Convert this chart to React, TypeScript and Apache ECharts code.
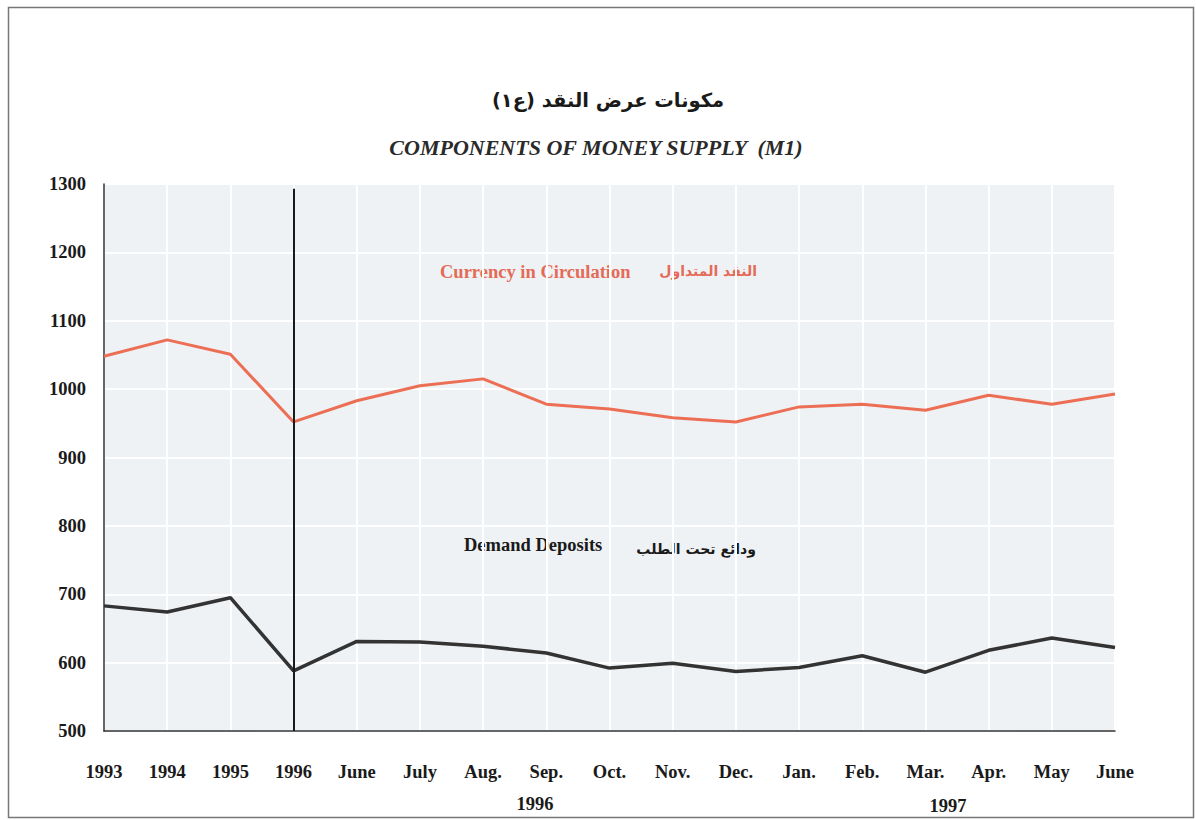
import React, { useEffect, useRef } from "react";
import * as echarts from "echarts";

const categories = ["1993", "1994", "1995", "1996", "June", "July", "Aug.", "Sep.", "Oct.", "Nov.", "Dec.", "Jan.", "Feb.", "Mar.", "Apr.", "May", "June"];
const currency = [1048, 1072, 1051, 952, 983, 1005, 1015, 978, 971, 958, 952, 974, 978, 969, 991, 978, 993];
const demand = [683, 674, 695, 588, 631, 630, 624, 614, 592, 599, 587, 593, 610, 586, 618, 636, 622];
const yTicks = { min: 500, max: 1300, interval: 100 };

const SERIF = "'Liberation Serif', 'Times New Roman', serif";
const ARABIC = "'DejaVu Sans', 'Noto Sans', sans-serif";

export default function App() {
  const ref = useRef<HTMLDivElement>(null);
  useEffect(() => {
    if (!ref.current) return;
    const chart = echarts.init(ref.current, undefined, { renderer: "svg" });
    chart.setOption({
      animation: false,
      backgroundColor: "#ffffff",
      grid: {
        left: 104,
        right: 81,
        top: 184,
        bottom: 89,
        show: true,
        backgroundColor: "#eef2f4",
        borderColor: "#444",
        borderWidth: 1,
      },
      xAxis: {
        type: "category",
        data: categories,
        boundaryGap: false,
        axisLine: { show: true, lineStyle: { color: "#333", width: 1.5 } },
        axisTick: { show: false },
        splitLine: { show: true, lineStyle: { color: "#ffffff", width: 2 } },
        axisLabel: {
          margin: 31,
          color: "#1a1a1a",
          fontFamily: SERIF,
          fontWeight: "bold",
          fontSize: 18.5,
          interval: 0,
        },
      },
      yAxis: {
        type: "value",
        min: yTicks.min,
        max: yTicks.max,
        interval: yTicks.interval,
        axisLine: { show: true, lineStyle: { color: "#333", width: 1.5 } },
        axisTick: { show: false },
        splitLine: { show: true, lineStyle: { color: "#ffffff", width: 2 } },
        axisLabel: {
          margin: 18,
          color: "#1a1a1a",
          fontFamily: SERIF,
          fontWeight: "bold",
          fontSize: 18.5,
          formatter: (v: number) => String(v),
        },
      },
      series: [
        {
          name: "Currency in Circulation",
          type: "line",
          data: currency,
          symbol: "none",
          lineStyle: { color: "#ec6f55", width: 3 },
          z: 3,
        },
        {
          name: "Demand Deposits",
          type: "line",
          data: demand,
          symbol: "none",
          lineStyle: { color: "#333333", width: 3.5 },
          z: 3,
          markLine: {
            silent: true,
            symbol: "none",
            label: { show: false },
            lineStyle: { color: "#1a1a1a", width: 2, type: "solid" },
            data: [[{ coord: ["1996", 1293] }, { coord: ["1996", 500] }]],
          },
        },
      ],
      graphic: [
        {
          type: "rect",
          shape: { x: 8.5, y: 7.5, width: 1185, height: 810 },
          style: { fill: "none", stroke: "#777", lineWidth: 1.5 },
          silent: true,
        },
        {
          type: "text",
          x: 608,
          y: 100,
          style: {
            text: "مكونات عرض النقد (ع١)",
            font: `bold 19.5px ${ARABIC}`,
            fill: "#1a1a1a",
            align: "center",
            verticalAlign: "middle",
          },
        },
        {
          type: "text",
          x: 596,
          y: 147,
          style: {
            text: "COMPONENTS OF MONEY SUPPLY  (M1)",
            font: `italic bold 22px ${SERIF}`,
            fill: "#2a2a2a",
            align: "center",
            verticalAlign: "middle",
          },
        },
        {
          type: "text",
          x: 440,
          y: 272,
          style: {
            text: "Currency in Circulation",
            font: `bold 18.5px ${SERIF}`,
            fill: "#e56a57",
            align: "left",
            verticalAlign: "middle",
          },
        },
        {
          type: "text",
          x: 757,
          y: 271,
          style: {
            text: "النقد المتداول",
            font: `bold 14px ${ARABIC}`,
            fill: "#e56a57",
            align: "right",
            verticalAlign: "middle",
          },
        },
        {
          type: "text",
          x: 464,
          y: 545,
          style: {
            text: "Demand Deposits",
            font: `bold 18.5px ${SERIF}`,
            fill: "#1a1a1a",
            align: "left",
            verticalAlign: "middle",
          },
        },
        {
          type: "text",
          x: 756,
          y: 549,
          style: {
            text: "ودائع تحت الطلب",
            font: `bold 14px ${ARABIC}`,
            fill: "#1a1a1a",
            align: "right",
            verticalAlign: "middle",
          },
        },
        {
          type: "text",
          x: 535,
          y: 804,
          style: {
            text: "1996",
            font: `bold 18.5px ${SERIF}`,
            fill: "#1a1a1a",
            align: "center",
            verticalAlign: "middle",
          },
        },
        {
          type: "text",
          x: 948,
          y: 806,
          style: {
            text: "1997",
            font: `bold 18.5px ${SERIF}`,
            fill: "#1a1a1a",
            align: "center",
            verticalAlign: "middle",
          },
        },
      ],
    });
    return () => chart.dispose();
  }, []);
  return (
    <div
      ref={ref}
      style={{ position: "fixed", left: 0, top: 0, width: 1196, height: 820 }}
    />
  );
}
